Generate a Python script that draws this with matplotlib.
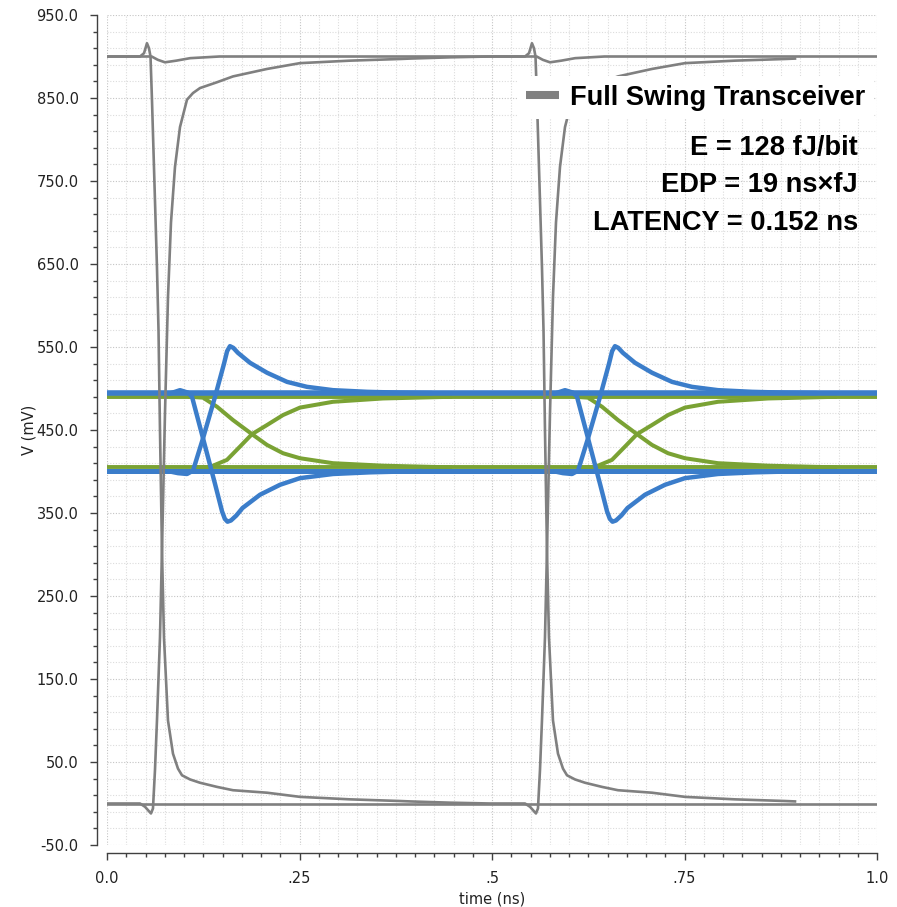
import numpy as np
import matplotlib
matplotlib.use("Agg")
import matplotlib.pyplot as plt
from matplotlib.lines import Line2D
from matplotlib.font_manager import FontProperties
from matplotlib.ticker import FixedLocator

# ---- data (time in ns, voltage in mV) ----
period = 0.5          # bit period, second edge repeats the first
t_end_swing = 0.894   # full swing traces stop here

# full swing edge, falling (node starts high)
fall_t = [0.0, 0.0429, 0.0481, 0.0519, 0.0545, 0.0565, 0.0584, 0.0610, 0.0649,
          0.0669, 0.0688, 0.0714, 0.0740, 0.0792, 0.0857, 0.0922, 0.0974, 0.1078,
          0.1208, 0.1429, 0.1636, 0.2078, 0.2506, 0.3156, 0.3805, 0.3935, 0.4455,
          0.4974]
fall_mv = [900, 900, 904, 916, 910, 900, 848, 767, 646,
           570, 450, 305, 200, 100, 60, 42, 34, 29,
           25, 20, 16, 13, 8, 5, 3, 2.5, 1,
           0]

# full swing edge, rising (node starts low)
rise_t = [0.0, 0.0429, 0.0494, 0.0571, 0.0597, 0.0623, 0.0649, 0.0688, 0.0714,
          0.0753, 0.0792, 0.0831, 0.0883, 0.0948, 0.1039, 0.1117, 0.1208, 0.1429,
          0.1636, 0.2078, 0.2506, 0.3156, 0.3805, 0.3935, 0.4455, 0.4974]
rise_mv = [0, 0, -4, -12, -6, 40, 100, 200, 305,
           470, 610, 700, 767, 815, 848, 856, 862, 869,
           876, 885, 892, 895, 897, 897.5, 899, 900]

# node that stays high (coupling dip) and node that stays low
hold_hi_t = [0.0, 0.0580, 0.0660, 0.0753, 0.0900, 0.1080, 0.1460,
             0.5580, 0.5660, 0.5753, 0.5900, 0.6080, 0.6460, 1.0]
hold_hi_mv = [900, 900, 896, 893, 895, 898, 900,
              900, 896, 893, 895, 898, 900, 900]
hold_lo_t = [0.0, 1.0]
hold_lo_mv = [0, 0]

# low swing receiver, blue
blue_hi, blue_lo = 494.5, 400.5
bfall_t = [0.0818, 0.0948, 0.1052, 0.1104, 0.1247, 0.1403, 0.1494, 0.1530,
           0.1565, 0.1610, 0.1680, 0.1760, 0.1987, 0.2247, 0.2506, 0.2935,
           0.3416, 0.4065]
bfall_mv = [494, 498, 495, 490, 440, 385, 352, 343,
            339.5, 341, 347, 356, 372, 384, 392, 397,
            399, 400.5]
brise_t = [0.0818, 0.0922, 0.1039, 0.1117, 0.1247, 0.1403, 0.1520, 0.1560,
           0.1597, 0.1640, 0.1700, 0.1857, 0.2078, 0.2338, 0.2597, 0.2935,
           0.3377, 0.3805, 0.4195]
brise_mv = [400, 398, 397, 401, 440, 490, 530, 545,
            551, 549, 543, 531, 519, 508, 502, 498,
            496, 495, 494.5]

# low swing receiver, green
green_hi, green_lo = 490, 405
gfall_t = [0.1078, 0.1247, 0.1429, 0.1636, 0.1883, 0.2078, 0.2286, 0.2506,
           0.2935, 0.3584, 0.4455]
gfall_mv = [490, 489, 478, 462, 445, 432, 422, 416, 410, 407, 405]
grise_t = [0.1143, 0.1338, 0.1558, 0.1727, 0.1883, 0.2078, 0.2286, 0.2506,
           0.2935, 0.3584, 0.4455]
grise_mv = [405, 405.5, 414, 430, 445, 456, 468, 477, 484, 488, 490]

legend_label = "Full Swing Transceiver"
notes = ["E = 128 fJ/bit", "EDP = 19 ns\u00d7fJ", "LATENCY = 0.152 ns"]

xticks = [0.0, 0.25, 0.5, 0.75, 1.0]
xticklabels = ["0.0", ".25", ".5", ".75", "1.0"]
yticks = list(range(-50, 951, 100))

# ---- colours ----
GRAY = "#808080"
BLUE = "#3b7dca"
GREEN = "#7aa234"


def two_bits(t1, v1, t2, v2, t_stop=None):
    """first edge in bit 0, second edge shifted by one period"""
    t2 = np.asarray(t2) + period
    v2 = np.asarray(v2)
    if t_stop is not None:
        keep = t2 <= t_stop
        t2, v2 = t2[keep], v2[keep]
    return np.r_[t1, t2], np.r_[v1, v2]


fig = plt.figure(figsize=(8.97, 9.07), dpi=100)
ax = fig.add_axes([107 / 897, 62 / 907, 770 / 897, 830 / 907])

# green eye
ax.plot([0, 1], [green_hi, green_hi], color=GREEN, lw=2.8, zorder=2)
ax.plot([0, 1], [green_lo, green_lo], color=GREEN, lw=2.8, zorder=2)
for k in range(2):
    ax.plot(np.asarray(gfall_t) + k * period, gfall_mv, color=GREEN, lw=2.9,
            zorder=2, solid_joinstyle="round")
    ax.plot(np.asarray(grise_t) + k * period, grise_mv, color=GREEN, lw=2.9,
            zorder=2, solid_joinstyle="round")

# blue eye
ax.plot([0, 1], [blue_hi, blue_hi], color=BLUE, lw=4.0, zorder=3)
ax.plot([0, 1], [blue_lo, blue_lo], color=BLUE, lw=3.6, zorder=3)
for k in range(2):
    ax.plot(np.asarray(bfall_t) + k * period, bfall_mv, color=BLUE, lw=3.2,
            zorder=3, solid_joinstyle="round")
    ax.plot(np.asarray(brise_t) + k * period, brise_mv, color=BLUE, lw=3.2,
            zorder=3, solid_joinstyle="round")

# full swing traces
ta, va = two_bits(fall_t, fall_mv, rise_t, rise_mv, t_end_swing)
tb, vb = two_bits(rise_t, rise_mv, fall_t, fall_mv, t_end_swing)
ax.plot(hold_hi_t, hold_hi_mv, color=GRAY, lw=1.9, zorder=4)
ax.plot(hold_lo_t, hold_lo_mv, color=GRAY, lw=1.9, zorder=4)
ax.plot(ta, va, color=GRAY, lw=1.9, zorder=4)
ax.plot(tb, vb, color=GRAY, lw=1.9, zorder=4)

# axes look
ax.set_xlim(0, 1.0)
ax.set_ylim(-50, 950)
for s in ("top", "right"):
    ax.spines[s].set_visible(False)
ax.spines["left"].set_position(("outward", 7.5))
ax.spines["bottom"].set_position(("outward", 5.8))
for s in ("left", "bottom"):
    ax.spines[s].set_color("#404040")
    ax.spines[s].set_linewidth(1.0)

ax.xaxis.set_major_locator(FixedLocator(xticks))
ax.set_xticklabels(xticklabels)
ax.xaxis.set_minor_locator(FixedLocator(np.arange(0, 1.0001, 0.025)))
ax.yaxis.set_major_locator(FixedLocator(yticks))
ax.set_yticklabels([f"{v:.1f}" for v in yticks])
ax.yaxis.set_minor_locator(FixedLocator(np.arange(-50, 951, 20)))

ax.tick_params(which="major", length=5, width=1.0, color="#404040",
               labelsize=10.5, labelcolor="#222222", pad=8)
ax.tick_params(which="minor", length=3.2, width=1.0, color="#404040")

ax.grid(which="minor", color="#dcdcdc", ls=(0, (1, 1.5)), lw=0.8, zorder=0)
ax.grid(which="major", color="#c4c4c4", ls=(0, (1, 1.5)), lw=0.8, zorder=0)
ax.set_axisbelow(True)

ax.set_xlabel("time (ns)", fontsize=10.5, color="#222222", labelpad=4)
ax.set_ylabel("V (mV)", fontsize=10.5, color="#222222", labelpad=0)

# legend and annotations
bold = FontProperties(family="Liberation Sans", weight="bold", size=19.6)
handle = Line2D([], [], color=GRAY, lw=5.8, solid_capstyle="butt")
leg = ax.legend([handle], [legend_label], loc="upper right",
                bbox_to_anchor=(0.995, 0.926), borderaxespad=0, frameon=True,
                fancybox=False, framealpha=1, edgecolor="none",
                facecolor="white", prop=bold, handlelength=1.2,
                handletextpad=0.4, borderpad=0.3)
leg.set_zorder(10)

for y, s in zip([0.831, 0.787, 0.741], notes):
    ax.text(0.975, y, s, transform=ax.transAxes, ha="right", va="baseline",
            fontproperties=bold, color="black", zorder=11)

fig.savefig("out.png", dpi=100, facecolor="white")
